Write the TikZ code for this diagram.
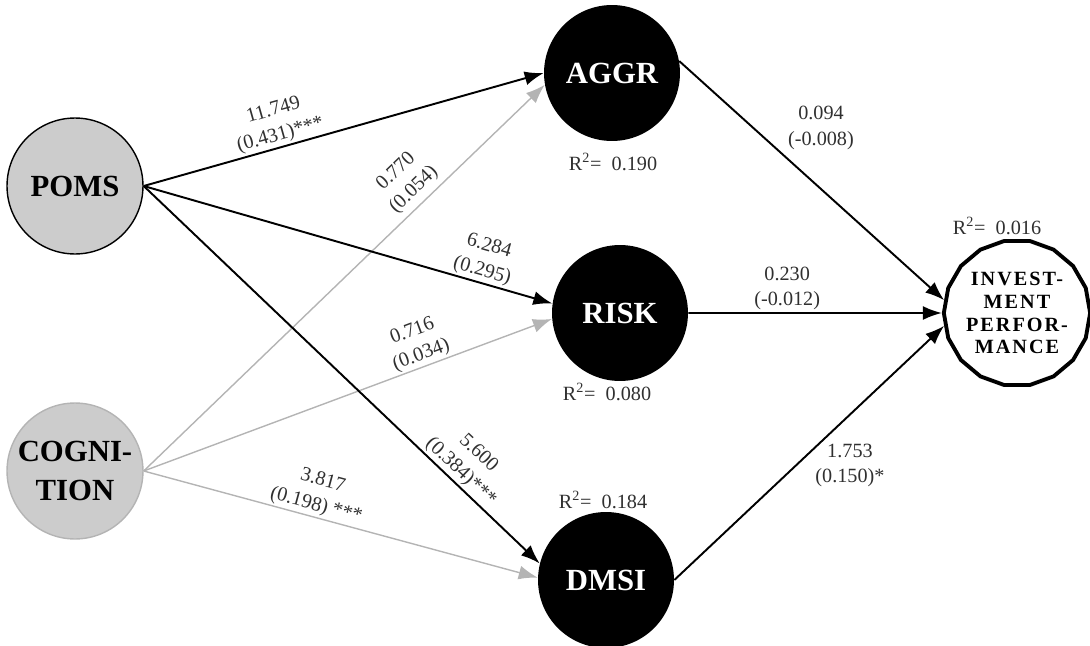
\documentclass[tikz,border=0pt]{standalone}
\usepackage{fontspec}
\setmainfont{Liberation Serif}
\usetikzlibrary{arrows.meta,shapes.geometric,positioning}

\definecolor{latgray}{HTML}{CCCCCC}
\definecolor{linegray}{HTML}{B4B4B4}
\definecolor{labelgray}{HTML}{303030}

\begin{document}
\begin{tikzpicture}
  [x=0.02cm,y=-0.02cm,
   latent/.style={circle,minimum size=2.72cm,inner sep=0pt,align=center,
     font=\bfseries\fontsize{17.5}{22}\selectfont},
   exo/.style={latent,fill=latgray,draw=black,line width=0.8pt},
   exogray/.style={latent,fill=latgray,draw=linegray,line width=0.8pt},
   endo/.style={latent,fill=black,text=white},
   outcome/.style={regular polygon,regular polygon sides=18,minimum size=2.8cm,
     inner sep=0pt,draw,fill=white,line width=2.2pt,align=center,
     font=\bfseries\fontsize{11.5}{13}\selectfont\addfontfeature{LetterSpace=10}},
   coef/.style={align=center,inner sep=1pt,text=labelgray,
     font=\fontsize{11.5}{14.5}\selectfont},
   rsq/.style={text=labelgray,font=\fontsize{11.5}{13}\selectfont},
   blackarrow/.style={line width=1.1pt,-{Latex[length=3.8mm,width=2.8mm]}},
   grayarrow/.style={blackarrow,draw=linegray,line width=0.8pt}]
  \useasboundingbox (0,0) rectangle (1090,646);

  \node[exo]     (poms) at (75,186)  {POMS};
  \node[exogray] (cog)  at (75,471)  {COGNI-\\TION};
  \node[endo]    (aggr) at (612,73)  {AGGR};
  \node[endo]    (risk) at (620,313) {RISK};
  \node[endo]    (dmsi) at (606,580) {DMSI};
  \node[outcome] (inv)  at (1017,313) {INVEST-\\MENT\\PERFOR-\\MANCE};

  \node[rsq] (r2aggr) at (613,162) {R\textsuperscript{2}=\ \ 0.190};
  \node[rsq] (r2risk) at (607,392) {R\textsuperscript{2}=\ \ 0.080};
  \node[rsq] (r2dmsi) at (603,500) {R\textsuperscript{2}=\ \ 0.184};
  \node[rsq] (r2inv)  at (997,226) {R\textsuperscript{2}=\ \ 0.016};

  % cognition paths
  \draw[grayarrow] (cog.east) -- (aggr.190)
    node[coef,sloped,above=2pt,pos=.70] (c4) {0.770\\(0.054)};
  \draw[grayarrow] (cog.east) -- (risk.185)
    node[coef,sloped,above,pos=.69] (c5) {0.716\\(0.034)};
  \draw[grayarrow] (cog.east) -- (dmsi.178)
    node[coef,sloped,above,pos=.43] (c6) {3.817\\(0.198) ***};

  % poms paths
  \draw[blackarrow] (poms.east) -- (aggr.west)
    node[coef,sloped,above,pos=.35] (c1) {11.749\\(0.431)***};
  \draw[blackarrow] (poms.east) -- (risk.172)
    node[coef,sloped,above,pos=.82] (c2) {6.284\\(0.295)};
  \draw[blackarrow] (poms.east) -- (dmsi.166)
    node[coef,sloped,above,pos=.78] (c3) {5.600\\(0.384)***};

  % paths to performance
  \draw[blackarrow] (aggr.10) -- (inv.170)
    node[coef,right=6.4mm,pos=.28] (c7) {0.094\\(-0.008)};
  \draw[blackarrow] (risk.east) -- (inv.180)
    node[coef,above,pos=.39] (c8) {0.230\\(-0.012)};
  \draw[blackarrow] (dmsi.east) -- (inv.190)
    node[coef,right=3.4mm,pos=.45] (c9) {1.753\\(0.150)*};

\end{tikzpicture}
\end{document}
